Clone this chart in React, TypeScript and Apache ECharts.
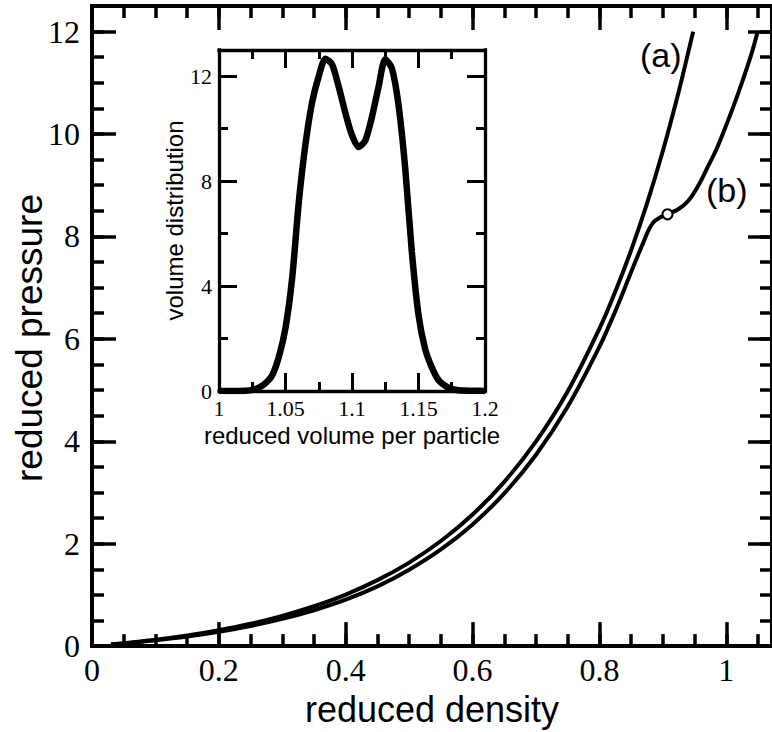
import React, { useEffect, useRef } from "react";
import * as echarts from "echarts";

// Main panel: reduced pressure vs reduced density
const densityA = [0.03, 0.05, 0.1, 0.15, 0.2, 0.25, 0.3, 0.35, 0.4, 0.45, 0.5, 0.55, 0.6, 0.65, 0.7, 0.75, 0.8, 0.825, 0.85, 0.875, 0.9, 0.925, 0.9477];
const pressureA = [0.032, 0.056, 0.124, 0.208, 0.311, 0.436, 0.59, 0.778, 1.007, 1.288, 1.631, 2.052, 2.57, 3.208, 3.997, 4.977, 6.2, 6.923, 7.734, 8.645, 9.672, 10.829, 12.0];

const densityB = [0.03, 0.05, 0.1, 0.15, 0.2, 0.25, 0.3, 0.35, 0.4, 0.45, 0.5, 0.55, 0.6, 0.65, 0.7, 0.75, 0.8, 0.825, 0.8455, 0.856, 0.8691, 0.8769, 0.8848, 0.8953, 0.9073, 0.9241, 0.9398, 0.9555, 0.9713, 0.9843, 0.995, 1.01, 1.025, 1.04, 1.049];
const pressureB = [0.029, 0.05, 0.112, 0.187, 0.28, 0.392, 0.531, 0.7, 0.906, 1.166, 1.492, 1.888, 2.377, 2.983, 3.737, 4.678, 5.847, 6.542, 7.167, 7.492, 7.881, 8.107, 8.271, 8.368, 8.432, 8.53, 8.691, 8.984, 9.373, 9.698, 10.02, 10.5, 11.02, 11.58, 11.98];

const markerPoint = [0.9073, 8.432];

const curveLabels = ["(a)", "(b)"];
const titles = { x: "reduced density", y: "reduced pressure", insetX: "reduced volume per particle", insetY: "volume distribution" };

// Inset: volume distribution vs reduced volume per particle
const volume = [1.0, 1.01, 1.02, 1.025, 1.03, 1.035, 1.04, 1.045, 1.05, 1.055, 1.06, 1.065, 1.07, 1.075, 1.08, 1.085, 1.09, 1.095, 1.1, 1.105, 1.11, 1.115, 1.12, 1.125, 1.13, 1.135, 1.14, 1.145, 1.15, 1.155, 1.16, 1.165, 1.17, 1.175, 1.18, 1.19, 1.2];
const distribution = [0, 0, 0.01, 0.04, 0.13, 0.3, 0.6, 1.3, 2.4, 4.3, 7.2, 9.4, 11.0, 12.0, 12.67, 12.45, 11.6, 10.6, 9.75, 9.3, 9.55, 10.45, 11.6, 12.65, 12.3, 10.9, 8.5, 5.3, 2.9, 1.6, 0.9, 0.42, 0.2, 0.08, 0.03, 0.01, 0];

const SERIF = '"Liberation Serif", "Times New Roman", serif';
const SANS = '"Liberation Sans", Arial, sans-serif';
const BLACK = "#000";

function zip(xs: number[], ys: number[]) {
  return xs.map((x, i) => [x, ys[i]]);
}

function axis(opts: any) {
  const {
    gridIndex, position, min, max, interval, lineW, showLine, tickLen, tickW,
    labels, labelSize, labelMargin, minor, name, nameGap, nameSize, nameRotate, showMax,
  } = opts;
  return {
    type: "value",
    gridIndex,
    position,
    min,
    max,
    interval,
    axisLine: { show: showLine, onZero: false, lineStyle: { color: BLACK, width: lineW, cap: "square" } },
    axisTick: { show: true, inside: true, length: tickLen, lineStyle: { color: BLACK, width: tickW } },
    minorTick: minor
      ? { show: true, splitNumber: minor.split, length: minor.len, lineStyle: { color: BLACK, width: tickW } }
      : { show: false },
    axisLabel: labels
      ? { show: true, margin: labelMargin, fontFamily: SERIF, fontSize: labelSize, color: BLACK, showMinLabel: true, showMaxLabel: !!showMax, hideOverlap: false }
      : { show: false },
    splitLine: { show: false },
    minorSplitLine: { show: false },
    name: name || "",
    nameLocation: "middle",
    nameGap: nameGap || 0,
    nameRotate: nameRotate,
    nameTextStyle: { fontFamily: SANS, fontSize: nameSize || 12, color: BLACK },
  };
}

export default function App() {
  const ref = useRef<HTMLDivElement>(null);

  useEffect(() => {
    if (!ref.current) return;
    const chart = echarts.init(ref.current, null, { renderer: "svg" });

    const mainX = { gridIndex: 0, min: 0, max: 1.072 };
    const mainY = { gridIndex: 0, min: 0, max: 12.5 };
    const insX = { gridIndex: 1, min: 1, max: 1.2 };
    const insY = { gridIndex: 1, min: 0, max: 13 };

    const option: any = {
      animation: false,
      backgroundColor: "#fff",
      grid: [
        { left: 92, top: 6, right: -2, bottom: 84, show: false },
        { left: 219, top: 50, width: 266, height: 341, show: true, backgroundColor: "#fff", borderWidth: 0 },
      ],
      xAxis: [
        axis({ ...mainX, position: "bottom", interval: 0.2, showLine: true, lineW: 4, tickLen: 24, tickW: 3.5, labels: true, labelSize: 32, labelMargin: 8, name: titles.x, nameGap: 42, nameSize: 36 }),
        axis({ ...mainX, position: "bottom", interval: 0.05, showLine: false, lineW: 4, tickLen: 12, tickW: 3.5 }),
        axis({ ...mainX, position: "top", interval: 0.2, showLine: true, lineW: 4, tickLen: 24, tickW: 3.5 }),
        axis({ ...mainX, position: "top", interval: 0.05, showLine: false, lineW: 4, tickLen: 12, tickW: 3.5 }),
        axis({ ...insX, position: "bottom", interval: 0.05, showLine: true, lineW: 3.3, tickLen: 18, tickW: 3, minor: { split: 2, len: 9 }, labels: true, labelSize: 22, labelMargin: 6, showMax: true, name: titles.insetX, nameGap: 32, nameSize: 24 }),
        axis({ ...insX, position: "top", interval: 0.05, showLine: true, lineW: 3.3, tickLen: 18, tickW: 3, minor: { split: 2, len: 9 } }),
      ],
      yAxis: [
        axis({ ...mainY, position: "left", interval: 2, showLine: true, lineW: 4, tickLen: 24, tickW: 3.5, labels: true, labelSize: 32, labelMargin: 12 }),
        axis({ ...mainY, position: "left", interval: 0.5, showLine: false, lineW: 4, tickLen: 12, tickW: 3.5 }),
        axis({ ...mainY, position: "right", interval: 2, showLine: true, lineW: 4, tickLen: 24, tickW: 3.5 }),
        axis({ ...mainY, position: "right", interval: 0.5, showLine: false, lineW: 4, tickLen: 12, tickW: 3.5 }),
        axis({ ...insY, position: "left", interval: 4, showLine: true, lineW: 3.3, tickLen: 18, tickW: 3, labels: true, labelSize: 22, labelMargin: 7, name: titles.insetY, nameGap: 28, nameSize: 24, nameRotate: 90 }),
        axis({ ...insY, position: "left", interval: 2, showLine: false, lineW: 3.3, tickLen: 9, tickW: 3 }),
        axis({ ...insY, position: "right", interval: 4, showLine: true, lineW: 3.3, tickLen: 18, tickW: 3 }),
        axis({ ...insY, position: "right", interval: 2, showLine: false, lineW: 3.3, tickLen: 9, tickW: 3 }),
      ],
      series: [
        {
          type: "line", name: "(a)", xAxisIndex: 0, yAxisIndex: 0,
          data: zip(densityA, pressureA), showSymbol: false, symbol: "none",
          smooth: 0.25,
          lineStyle: { color: BLACK, width: 4 }, z: 3,
        },
        {
          type: "line", name: "(b)", xAxisIndex: 0, yAxisIndex: 0,
          data: zip(densityB, pressureB), showSymbol: false, symbol: "none",
          smooth: 0.25,
          lineStyle: { color: BLACK, width: 4 }, z: 3,
        },
        {
          type: "scatter", xAxisIndex: 0, yAxisIndex: 0,
          data: [markerPoint], symbol: "circle", symbolSize: 10,
          itemStyle: { color: "#fff", borderColor: BLACK, borderWidth: 2, opacity: 1 }, z: 5,
        },
        {
          type: "line", xAxisIndex: 4, yAxisIndex: 4,
          data: zip(volume, distribution), showSymbol: false, symbol: "none",
          smooth: 0.25,
          lineStyle: { color: BLACK, width: 6.5 }, z: 3,
        },
      ],
      graphic: [
        { type: "text", x: 29, y: 338, rotation: Math.PI / 2, style: { text: titles.y, font: `37px ${SANS}`, fill: BLACK, align: "center", verticalAlign: "middle" }, z: 10 },
        { type: "text", x: 640, y: 54.5, style: { text: curveLabels[0], font: `34px ${SANS}`, fill: BLACK, align: "left", verticalAlign: "middle" }, z: 10 },
        { type: "text", x: 706, y: 189.5, style: { text: curveLabels[1], font: `34px ${SANS}`, fill: BLACK, align: "left", verticalAlign: "middle" }, z: 10 },
      ],
    };

    chart.setOption(option);
    return () => chart.dispose();
  }, []);

  return <div ref={ref} style={{ position: "absolute", left: 0, top: 0, width: 772, height: 732 }} />;
}
